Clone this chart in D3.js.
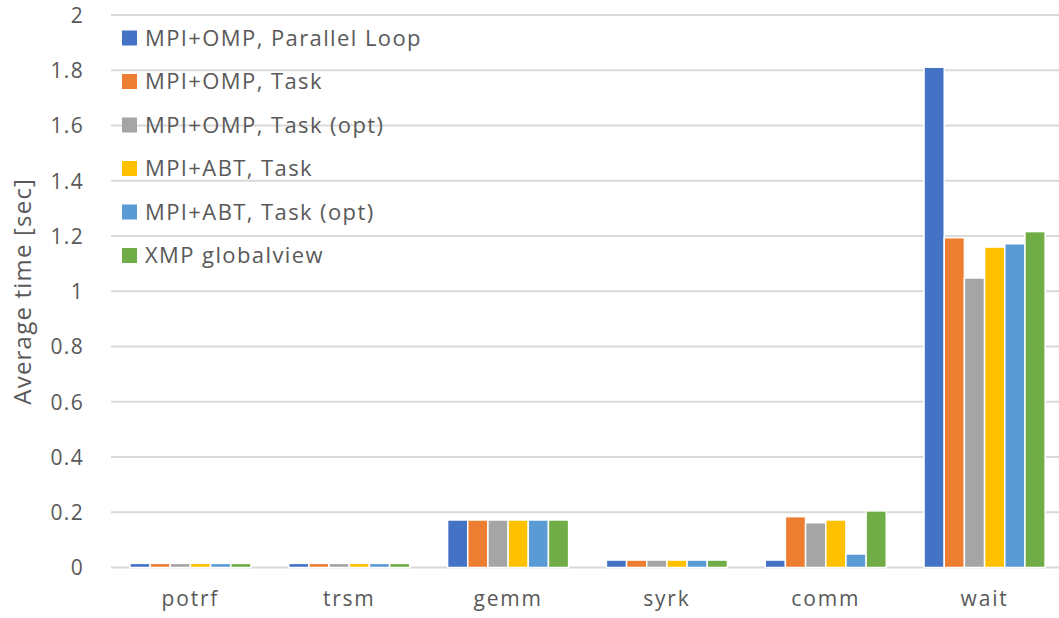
<!DOCTYPE html>
<html>
<head>
<meta charset="utf-8">
<script src="https://cdn.jsdelivr.net/npm/d3@7"></script>
<style>
  html, body { margin: 0; padding: 0; background: #fff; }
  svg { display: block; }
  text { font-family: "Open Sans", "Noto Sans", sans-serif; fill: #595959; }
</style>
</head>
<body>
<svg id="chart" width="1059" height="618"></svg>
<script>
// Phases of the run (x categories)
const categories = ["potrf", "trsm", "gemm", "syrk", "comm", "wait"];

// Implementation variants (legend order)
const seriesNames = [
  "MPI+OMP, Parallel Loop",
  "MPI+OMP, Task",
  "MPI+OMP, Task (opt)",
  "MPI+ABT, Task",
  "MPI+ABT, Task (opt)",
  "XMP globalview"
];
const seriesColors = ["#4472C4", "#ED7D31", "#A5A5A5", "#FFC000", "#5B9BD5", "#70AD47"];

// Average time in seconds, one array per variant, in category order
const ompLoop    = [0.015, 0.015, 0.172, 0.027, 0.027, 1.811];
const ompTask    = [0.015, 0.015, 0.172, 0.027, 0.184, 1.194];
const ompTaskOpt = [0.015, 0.015, 0.172, 0.027, 0.162, 1.048];
const abtTask    = [0.015, 0.015, 0.172, 0.027, 0.172, 1.160];
const abtTaskOpt = [0.015, 0.015, 0.172, 0.027, 0.049, 1.172];
const xmpGlobal  = [0.015, 0.015, 0.172, 0.027, 0.205, 1.216];
const seriesValues = [ompLoop, ompTask, ompTaskOpt, abtTask, abtTaskOpt, xmpGlobal];

const yTicks = [0, 0.2, 0.4, 0.6, 0.8, 1, 1.2, 1.4, 1.6, 1.8, 2];

const svg = d3.select("#chart");
const plot = { left: 111, right: 1064, top: 15, bottom: 567.5 };

const x0 = d3.scaleBand()
  .domain(categories)
  .range([plot.left, plot.right])
  .paddingInner(0.238)
  .paddingOuter(0.119);

const x1 = d3.scaleBand()
  .domain(d3.range(seriesNames.length))
  .range([0, x0.bandwidth()])
  .padding(0);

const y = d3.scaleLinear().domain([0, 2]).range([plot.bottom, plot.top]);

// Horizontal gridlines
svg.append("g")
  .selectAll("line")
  .data(yTicks)
  .join("line")
  .attr("x1", plot.left)
  .attr("x2", plot.right)
  .attr("y1", d => y(d))
  .attr("y2", d => y(d))
  .attr("stroke", "#D9D9D9")
  .attr("stroke-width", 2);

// Y axis tick labels
const yAxis = d3.axisLeft(y)
  .tickValues(yTicks)
  .tickFormat(d => String(d))
  .tickSize(0)
  .tickPadding(0);
const yg = svg.append("g")
  .attr("transform", `translate(${plot.left - 27},0)`)
  .call(yAxis);
yg.select(".domain").remove();
yg.selectAll("text")
  .attr("font-size", 21)
  .attr("letter-spacing", 1.3)
  .attr("font-family", "Open Sans, sans-serif")
  .attr("fill", "#595959")
  .attr("dy", "0.35em");

// Category labels
const xAxis = d3.axisBottom(x0).tickSize(0).tickPadding(0);
const xg = svg.append("g")
  .attr("transform", `translate(0,${plot.bottom + 24})`)
  .call(xAxis);
xg.select(".domain").remove();
xg.selectAll("text")
  .attr("font-size", 21)
  .attr("letter-spacing", 1.8)
  .attr("font-family", "Open Sans, sans-serif")
  .attr("fill", "#595959")
  .attr("dy", "0.71em");

// Bars
const groups = svg.append("g")
  .selectAll("g")
  .data(categories)
  .join("g")
  .attr("transform", d => `translate(${x0(d)},0)`);

groups.selectAll("rect")
  .data((c, ci) => seriesValues.map((vals, si) => ({ si, v: vals[ci] })))
  .join("rect")
  .attr("x", d => x1(d.si))
  .attr("width", x1.bandwidth())
  .attr("y", d => y(d.v))
  .attr("height", d => y(0) - y(d.v))
  .attr("fill", d => seriesColors[d.si])
  .attr("stroke", "#fff")
  .attr("stroke-width", 1.5);

// Y axis title
svg.append("text")
  .attr("transform", `translate(31,${(plot.top + plot.bottom) / 2}) rotate(-90)`)
  .attr("text-anchor", "middle")
  .attr("font-size", 24)
  .attr("letter-spacing", 1.2)
  .text("Average time [sec]");

// Legend
const legend = svg.append("g")
  .selectAll("g")
  .data(seriesNames)
  .join("g")
  .attr("transform", (d, i) => `translate(122,${38 + i * 43.5})`);

legend.append("rect")
  .attr("x", 0)
  .attr("y", -7.5)
  .attr("width", 15)
  .attr("height", 15)
  .attr("fill", (d, i) => seriesColors[i]);

legend.append("text")
  .attr("x", 23)
  .attr("dy", "0.35em")
  .attr("font-size", 22)
  .attr("letter-spacing", 1.4)
  .text(d => d);
</script>
</body>
</html>
